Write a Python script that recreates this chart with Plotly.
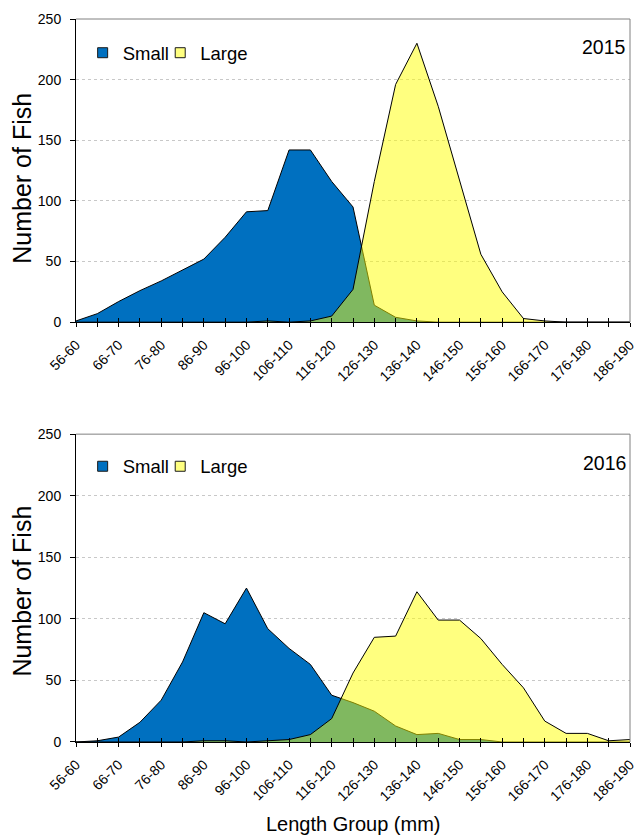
import plotly.graph_objects as go

# Length groups (mm), 5 mm bins
categories = ["56-60", "61-65", "66-70", "71-75", "76-80", "81-85", "86-90", "91-95",
              "96-100", "101-105", "106-110", "111-115", "116-120", "121-125", "126-130",
              "131-135", "136-140", "141-145", "146-150", "151-155", "156-160", "161-165",
              "166-170", "171-175", "176-180", "181-185", "186-190"]
# every other group is labelled on the axis
tick_labels = [c if i % 2 == 0 else "" for i, c in enumerate(categories)]

small_2015 = [1, 7, 17, 26, 34, 43, 52, 70, 91, 92, 142, 142, 116, 95, 14, 4, 1,
              0, 0, 0, 0, 0, 0, 0, 0, 0, 0]
large_2015 = [0, 0, 0, 0, 0, 0, 0, 0, 0, 1, 0, 1, 5, 27, 116, 196, 230, 178, 117,
              56, 25, 3, 1, 0, 0, 0, 0]

small_2016 = [0, 1, 4, 16, 34, 65, 105, 96, 125, 92, 76, 63, 38, 32, 25, 13, 6, 7,
              2, 2, 0, 0, 0, 0, 0, 0, 0]
large_2016 = [0, 0, 0, 0, 0, 0, 1, 1, 0, 1, 2, 6, 19, 56, 85, 86, 122, 99, 99, 84,
              63, 44, 17, 7, 7, 1, 2]

years = ["2015", "2016"]

FONT = "Arial, Liberation Sans, sans-serif"
BLUE = "#0070C0"
YELLOW_FILL = "rgba(255,255,0,0.5)"

fig = go.Figure()

panels = [
    ("x", "x3", "y", ("legend", "legend3"), small_2015, large_2015),
    ("x2", "x4", "y2", ("legend2", "legend4"), small_2016, large_2016),
]

for xa, xin, ya, (lg_s, lg_l), small, large in panels:
    fig.add_trace(go.Scatter(
        x=categories, y=small, xaxis=xa, yaxis=ya, mode="lines",
        fill="tozeroy", fillcolor=BLUE, line=dict(color="black", width=1),
        showlegend=False, hoverinfo="x+y", name="Small"))
    fig.add_trace(go.Scatter(
        x=categories, y=large, xaxis=xa, yaxis=ya, mode="lines",
        fill="tozeroy", fillcolor=YELLOW_FILL, line=dict(color="black", width=1),
        showlegend=False, hoverinfo="x+y", name="Large"))
    # legend keys
    fig.add_trace(go.Scatter(
        x=[None], y=[None], xaxis=xa, yaxis=ya, mode="markers", name="Small",
        marker=dict(symbol="square", size=10, color=BLUE,
                    line=dict(color="#1a1a1a", width=1)),
        legend=lg_s))
    fig.add_trace(go.Scatter(
        x=[None], y=[None], xaxis=xa, yaxis=ya, mode="markers", name="Large",
        marker=dict(symbol="square", size=10, color="#FFFF80",
                    line=dict(color="#1a1a1a", width=1)),
        legend=lg_l))
    # empty trace so the inner-tick companion axis gets drawn
    fig.add_trace(go.Scatter(
        x=[None], y=[None], xaxis=xin, yaxis=ya, mode="lines",
        showlegend=False, hoverinfo="skip"))

top_dom = [0.5807, 1.0]
bot_dom = [0.0, 0.4258]

xaxis_common = dict(
    type="category", range=[0, 26], tickmode="array",
    tickvals=categories, ticktext=tick_labels, tickangle=-45,
    ticks="outside", ticklen=4, tickcolor="black", tickwidth=1,
    ticklabelstandoff=4,
    showline=True, linecolor="black", linewidth=1,
    showgrid=False, zeroline=False,
    tickfont=dict(family=FONT, size=14, color="black"),
)
yaxis_common = dict(
    range=[0, 250], tickvals=[0, 50, 100, 150, 200, 250],
    ticks="outside", ticklen=5, tickcolor="black", tickwidth=1,
    ticklabelstandoff=6,
    showline=True, linecolor="black", linewidth=1,
    showgrid=True, gridcolor="#c8c8c8", gridwidth=1, griddash="dot",
    zeroline=False,
    tickfont=dict(family=FONT, size=14, color="black"),
)
# companion axes that carry the inner half of the crossing category ticks
inner_ticks = dict(
    type="linear", range=[0, 26], tickmode="array",
    tickvals=list(range(len(categories))), ticks="inside", ticklen=4,
    tickcolor="black", tickwidth=1, showticklabels=False,
    showgrid=False, zeroline=False, showline=False,
)

legend_common = dict(orientation="h", xanchor="left", yanchor="top",
                     font=dict(family=FONT, size=18.5, color="black"),
                     bgcolor="rgba(0,0,0,0)", itemwidth=30)

fig.update_layout(
    width=639, height=836,
    margin=dict(l=76, r=2, t=19, b=94),
    paper_bgcolor="white", plot_bgcolor="white",
    font=dict(family=FONT, color="black"),
    xaxis=dict(domain=[0, 1], anchor="y", **xaxis_common),
    yaxis=dict(domain=top_dom, anchor="x", **yaxis_common),
    xaxis2=dict(domain=[0, 1], anchor="y2", **xaxis_common),
    yaxis2=dict(domain=bot_dom, anchor="x2", **yaxis_common),
    xaxis3=dict(overlaying="x", anchor="y", **inner_ticks),
    xaxis4=dict(overlaying="x2", anchor="y2", **inner_ticks),
    legend=dict(x=0.012, y=0.979, **legend_common),
    legend3=dict(x=0.152, y=0.979, **legend_common),
    legend2=dict(x=0.012, y=0.407, **legend_common),
    legend4=dict(x=0.152, y=0.407, **legend_common),
    showlegend=True,
)

# plot-area frame: top and right edges in grey
for xr, yr in [("x domain", "y domain"), ("x2 domain", "y2 domain")]:
    fig.add_shape(type="line", xref=xr, yref=yr, x0=0, x1=1, y0=1, y1=1,
                  line=dict(color="#808080", width=1))
    fig.add_shape(type="line", xref=xr, yref=yr, x0=1, x1=1, y0=0, y1=1,
                  line=dict(color="#808080", width=1))

# year labels in the top-right corner of each panel
for xr, yr, yr_text in [("x domain", "y domain", years[0]),
                        ("x2 domain", "y2 domain", years[1])]:
    fig.add_annotation(text=yr_text, xref=xr, yref=yr, x=0.996, y=0.907,
                       xanchor="right", yanchor="middle", showarrow=False,
                       font=dict(family=FONT, size=19.5, color="black"))

# y-axis titles
for ypos in (0.780, 0.209):
    fig.add_annotation(text="Number of Fish", xref="paper", yref="paper",
                       x=-0.098, y=ypos, xanchor="center", yanchor="middle",
                       textangle=-90, showarrow=False,
                       font=dict(family=FONT, size=25, color="black"))

fig.add_annotation(text="Length Group (mm)", xref="paper", yref="paper",
                   x=0.5, y=-0.113, xanchor="center", yanchor="middle",
                   showarrow=False, font=dict(family=FONT, size=20, color="black"))

fig.write_html("out.html")
